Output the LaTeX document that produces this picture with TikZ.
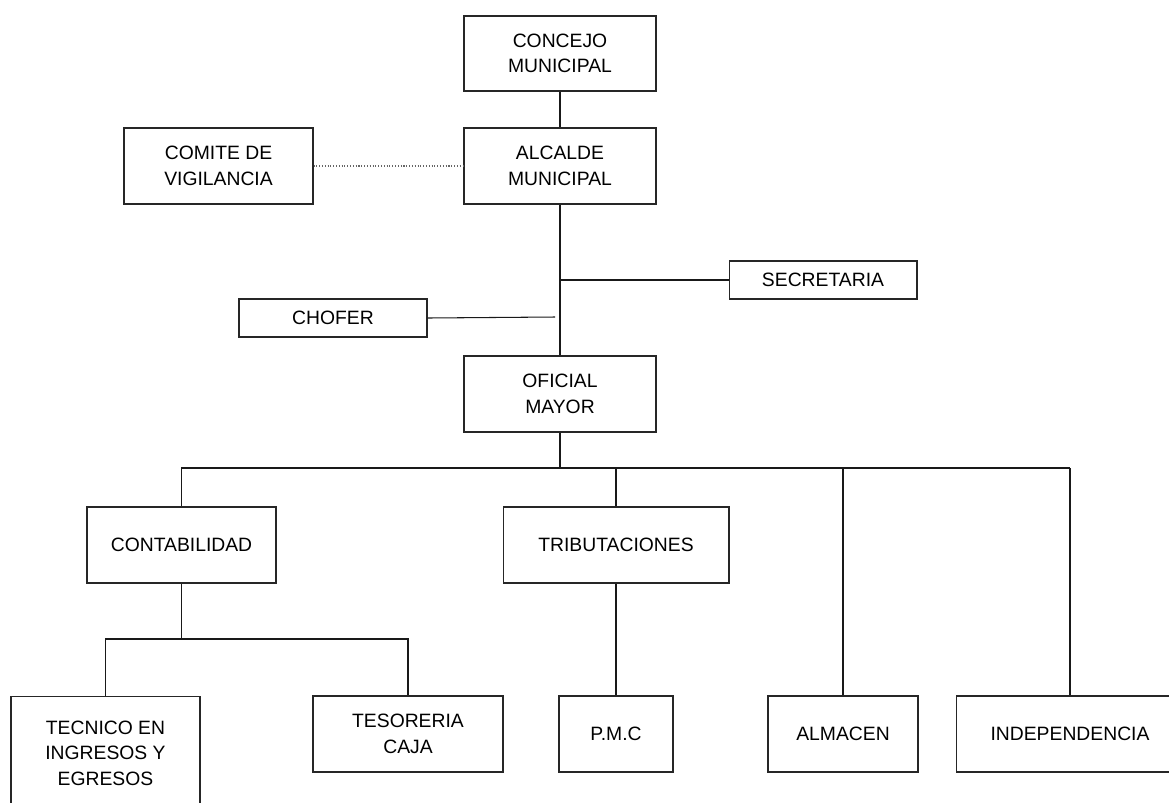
\documentclass[tikz,border=0pt]{standalone}
\usepackage{fontspec}
\setmainfont{Liberation Sans}
\usetikzlibrary{positioning,calc}

\tikzset{
  cargo/.style={draw=black!85,line width=0.6pt,rectangle,align=center,inner sep=0pt,
    font=\fontsize{11}{14.5}\selectfont,minimum width=3.84cm,minimum height=1.52cm},
  enlace/.style={draw=black!90,line width=0.6pt},
}

\begin{document}
\begin{tikzpicture}[x=0.02cm,y=-0.02cm]
  \useasboundingbox (0,0) rectangle (1169,802);
  \clip (0,0) rectangle (1169,802);

  % direccion
  \node[cargo,minimum height=1.5cm] (concejo) at (560,53.5) {CONCEJO\\MUNICIPAL};
  \node[cargo] (alcalde) at (560,166) {ALCALDE\\MUNICIPAL};
  \node[cargo,minimum width=3.78cm] (comite) at (218.5,166) {COMITE DE\\VIGILANCIA};
  \node[cargo,minimum width=3.76cm,minimum height=0.76cm] (secretaria) at (823,280) {SECRETARIA};
  \node[cargo,minimum width=3.76cm,minimum height=0.76cm] (chofer) at (333,318) {CHOFER};
  \node[cargo] (oficial) at (560,394) {OFICIAL\\MAYOR};

  % departamentos
  \node[cargo,minimum width=3.78cm] (contabilidad) at (181.5,545) {CONTABILIDAD};
  \node[cargo,minimum width=4.52cm] (tributaciones) at (616,545) {TRIBUTACIONES};
  \node[cargo,minimum width=3.78cm,minimum height=2.28cm] (tecnico) at (105.5,753) {TECNICO EN\\INGRESOS Y\\EGRESOS};
  \node[cargo,minimum width=3.8cm] (tesoreria) at (408,734) {TESORERIA\\CAJA};
  \node[cargo,minimum width=2.28cm] (pmc) at (616,734) {P.M.C};
  \node[cargo,minimum width=3cm] (almacen) at (843,734) {ALMACEN};
  \node[cargo,minimum width=4.56cm] (independencia) at (1070,734) {INDEPENDENCIA};

  \coordinate (bus) at (0,468);
  \coordinate (subbus) at (0,639);
  \coordinate (chofend) at (555,317);

  % lineas
  \draw[enlace] (concejo) -- (alcalde);
  \draw[enlace,draw=black!60,densely dotted] (comite) -- (alcalde);
  \draw[enlace] (alcalde) -- (oficial);
  \draw[enlace] (alcalde.south |- secretaria.west) -- (secretaria.west);
  \draw[enlace] (chofer.east) -- (chofend);
  \draw[enlace] (contabilidad.north) |- (oficial.south |- bus);
  \draw[enlace,line width=1pt] (oficial.south) |- (independencia.north |- bus);
  \draw[enlace] (independencia.north) -- (independencia.north |- bus);
  \draw[enlace] (tributaciones.north) -- (tributaciones.north |- bus);
  \draw[enlace] (almacen.north) -- (almacen.north |- bus);
  \draw[enlace] (tributaciones) -- (pmc);
  \draw[enlace] (contabilidad.south) -- (contabilidad.south |- subbus);
  \draw[enlace] (tecnico.north) |- (tesoreria.north |- subbus) -- (tesoreria.north);
\end{tikzpicture}
\end{document}
